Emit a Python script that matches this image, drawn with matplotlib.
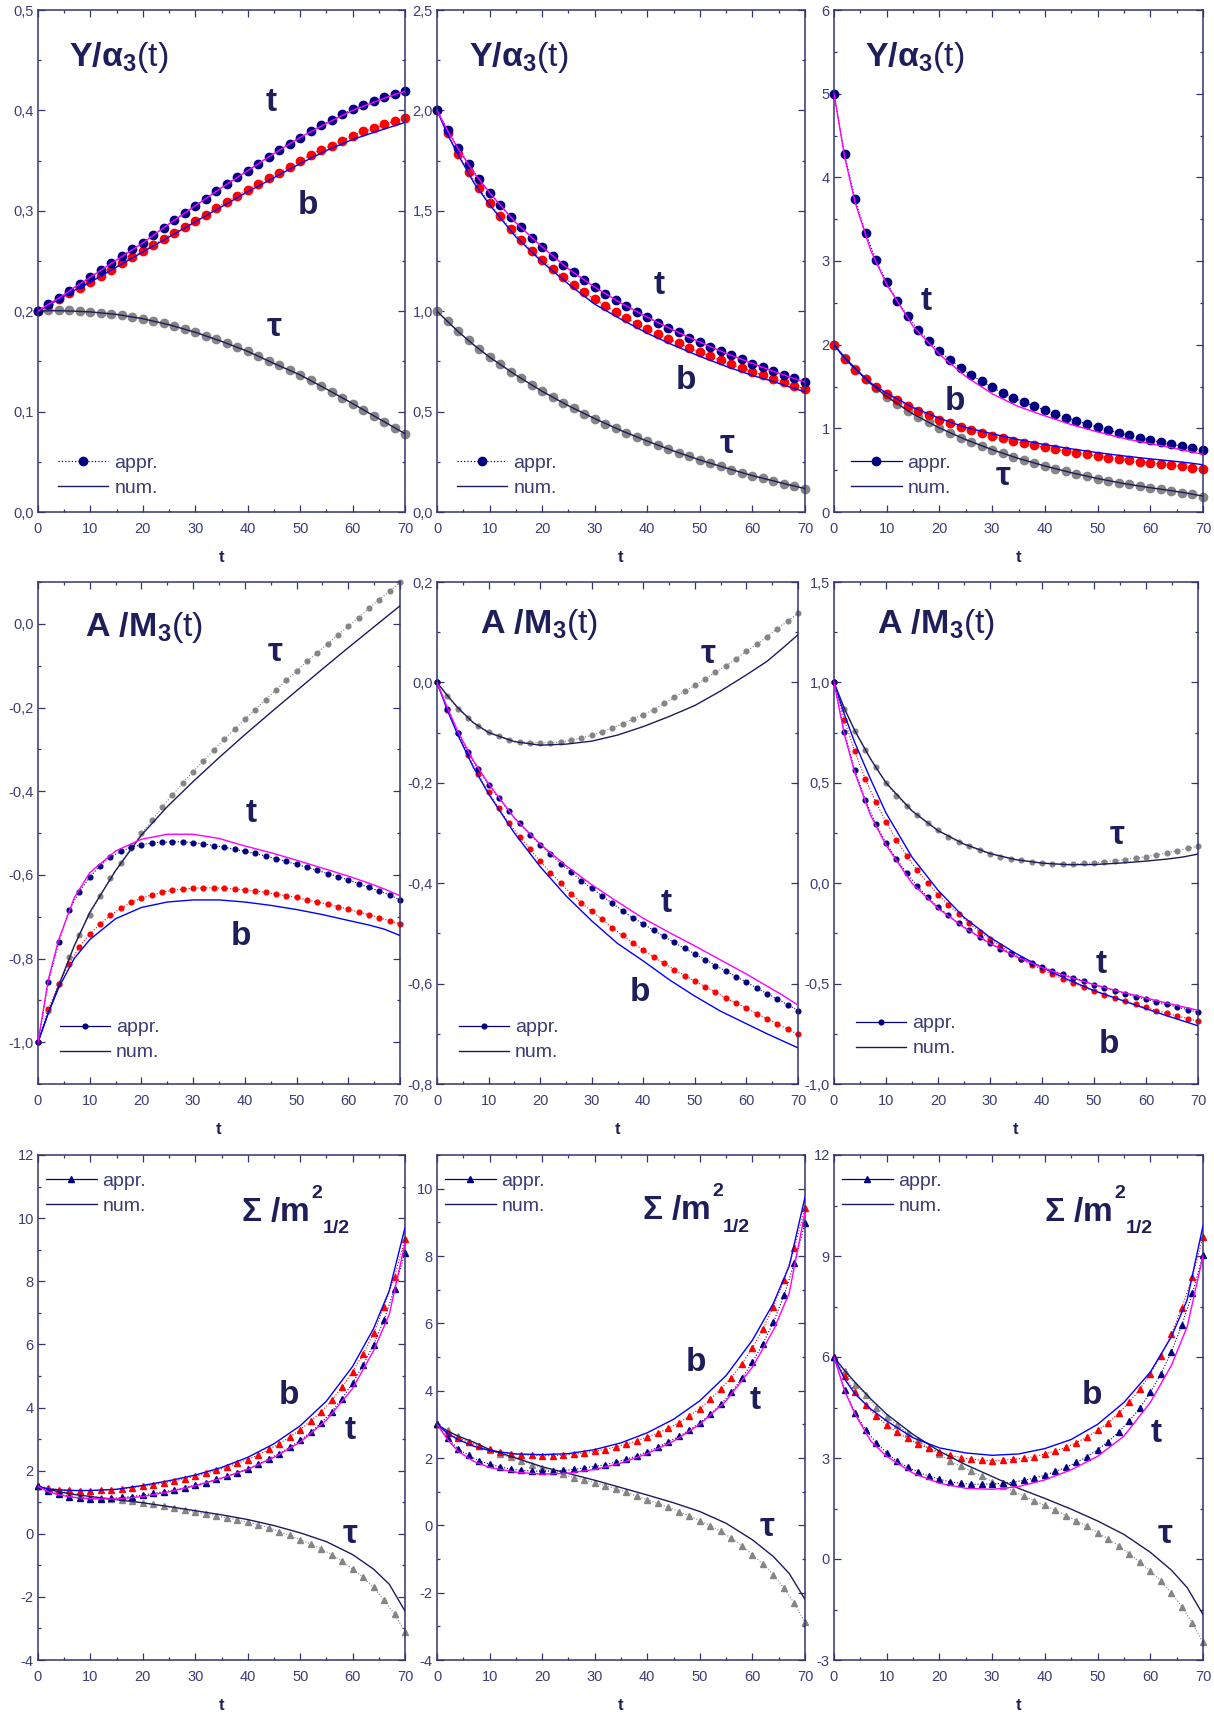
import numpy as np
import matplotlib
matplotlib.use('Agg')
import matplotlib.pyplot as plt
from matplotlib.lines import Line2D
from matplotlib.ticker import MultipleLocator, FuncFormatter

plt.rcParams['font.family'] = ['Liberation Sans', 'DejaVu Sans']
plt.rcParams['mathtext.fontset'] = 'custom'
plt.rcParams['mathtext.rm'] = 'Liberation Sans'
plt.rcParams['mathtext.bf'] = 'Liberation Sans:bold'
plt.rcParams['mathtext.it'] = 'Liberation Sans:italic'

# time grids: approximation markers every 2, numerical curves read at these t
T_APPR = list(range(0, 71, 2))
T_NUM = [0, 2, 4, 7, 10, 15, 20, 25, 30, 35, 40, 45, 50, 55, 60, 64, 67, 70]

# ---- row 1 : Y / alpha_3 ----
y1_t_appr = [0.200, 0.207, 0.213, 0.220, 0.227, 0.234, 0.241, 0.248, 0.255, 0.262, 0.268, 0.276,
             0.283, 0.291, 0.298, 0.305, 0.312, 0.320, 0.327, 0.334, 0.340, 0.347, 0.354, 0.361,
             0.367, 0.373, 0.379, 0.385, 0.390, 0.396, 0.401, 0.405, 0.409, 0.413, 0.416, 0.419]
y1_t_num = [0.200, 0.207, 0.213, 0.224, 0.234, 0.251, 0.268, 0.287, 0.305, 0.323, 0.340, 0.357,
            0.373, 0.387, 0.400, 0.408, 0.414, 0.419]
y1_b_appr = [0.200, 0.206, 0.212, 0.218, 0.223, 0.229, 0.235, 0.241, 0.248, 0.254, 0.260, 0.266,
             0.272, 0.278, 0.284, 0.290, 0.296, 0.303, 0.309, 0.315, 0.321, 0.327, 0.333, 0.338,
             0.344, 0.350, 0.356, 0.361, 0.365, 0.370, 0.375, 0.379, 0.382, 0.386, 0.389, 0.392]
y1_b_num = [0.200, 0.206, 0.212, 0.221, 0.229, 0.244, 0.259, 0.274, 0.289, 0.304, 0.319, 0.333,
            0.347, 0.360, 0.371, 0.378, 0.383, 0.388]
y1_tau_appr = [0.200, 0.201, 0.201, 0.201, 0.200, 0.199, 0.1985, 0.1975, 0.196, 0.194, 0.1925, 0.190,
               0.188, 0.185, 0.182, 0.179, 0.1755, 0.172, 0.168, 0.164, 0.160, 0.155, 0.150, 0.146,
               0.141, 0.1365, 0.131, 0.1255, 0.120, 0.114, 0.108, 0.102, 0.096, 0.090, 0.084, 0.078]
y1_tau_num = [0.200, 0.2005, 0.2005, 0.200, 0.1993, 0.1968, 0.1925, 0.1865, 0.179, 0.170, 0.160,
              0.148, 0.1365, 0.1225, 0.108, 0.096, 0.087, 0.078]

y2_t_appr = [2.0, 1.904, 1.814, 1.734, 1.656, 1.590, 1.528, 1.470, 1.417, 1.367, 1.321, 1.277,
             1.232, 1.193, 1.156, 1.121, 1.087, 1.057, 1.025, 0.998, 0.970, 0.943, 0.918, 0.894,
             0.869, 0.846, 0.824, 0.801, 0.780, 0.761, 0.739, 0.720, 0.700, 0.683, 0.665, 0.645]
y2_t_num = [2.0, 1.90, 1.81, 1.69, 1.59, 1.44, 1.32, 1.21, 1.12, 1.04, 0.97, 0.905, 0.846, 0.79,
            0.74, 0.70, 0.673, 0.647]
y2_b_appr = [2.0, 1.885, 1.785, 1.693, 1.612, 1.539, 1.472, 1.410, 1.353, 1.301, 1.255, 1.211,
             1.170, 1.131, 1.094, 1.059, 1.027, 0.995, 0.966, 0.938, 0.913, 0.887, 0.863, 0.840,
             0.817, 0.796, 0.775, 0.755, 0.736, 0.716, 0.699, 0.681, 0.663, 0.645, 0.629, 0.613]
y2_b_num = [2.0, 1.88, 1.78, 1.64, 1.53, 1.37, 1.245, 1.135, 1.035, 0.96, 0.89, 0.83, 0.775, 0.725,
            0.68, 0.65, 0.623, 0.598]
y2_tau_appr = [1.0, 0.949, 0.899, 0.855, 0.810, 0.771, 0.736, 0.699, 0.665, 0.633, 0.601, 0.571,
               0.543, 0.516, 0.489, 0.465, 0.440, 0.417, 0.395, 0.374, 0.353, 0.333, 0.314, 0.294,
               0.277, 0.259, 0.243, 0.227, 0.211, 0.195, 0.181, 0.167, 0.152, 0.140, 0.128, 0.115]
y2_tau_num = [1.0, 0.949, 0.899, 0.832, 0.771, 0.682, 0.601, 0.529, 0.465, 0.406, 0.353, 0.304,
              0.259, 0.219, 0.181, 0.155, 0.135, 0.117]

y3_t_appr = [5.0, 4.277, 3.736, 3.332, 3.009, 2.745, 2.523, 2.340, 2.179, 2.043, 1.923, 1.821,
             1.723, 1.638, 1.562, 1.489, 1.426, 1.366, 1.315, 1.264, 1.217, 1.170, 1.128, 1.089,
             1.051, 1.013, 0.979, 0.945, 0.915, 0.885, 0.860, 0.834, 0.809, 0.787, 0.762, 0.736]
y3_t_num = [5.0, 4.25, 3.70, 3.12, 2.72, 2.22, 1.885, 1.62, 1.413, 1.26, 1.149, 1.045, 0.957, 0.88,
            0.817, 0.77, 0.73, 0.689]
y3_b_appr = [2.0, 1.83, 1.70, 1.59, 1.49, 1.41, 1.34, 1.27, 1.21, 1.16, 1.10, 1.06, 1.01, 0.975,
             0.94, 0.91, 0.88, 0.85, 0.82, 0.795, 0.774, 0.75, 0.73, 0.71, 0.69, 0.668, 0.65, 0.635,
             0.618, 0.60, 0.587, 0.572, 0.558, 0.545, 0.53, 0.515]
y3_b_num = [2.0, 1.84, 1.71, 1.54, 1.42, 1.25, 1.12, 1.01, 0.935, 0.865, 0.805, 0.755, 0.71, 0.67,
            0.635, 0.61, 0.59, 0.565]
y3_tau_appr = [2.0, 1.84, 1.71, 1.59, 1.48, 1.38, 1.29, 1.21, 1.14, 1.07, 1.005, 0.945, 0.89, 0.84,
               0.79, 0.745, 0.70, 0.66, 0.62, 0.585, 0.55, 0.515, 0.485, 0.455, 0.43, 0.40, 0.375,
               0.35, 0.33, 0.31, 0.29, 0.27, 0.25, 0.23, 0.21, 0.185]
y3_tau_num = [2.0, 1.85, 1.72, 1.53, 1.38, 1.17, 1.005, 0.865, 0.745, 0.64, 0.55, 0.47, 0.40, 0.34,
              0.29, 0.255, 0.225, 0.19]

# ---- row 2 : A / M_3 ----
a1_t_appr = [-1.0, -0.857, -0.761, -0.685, -0.640, -0.606, -0.578, -0.558, -0.544, -0.534, -0.528,
             -0.524, -0.522, -0.521, -0.521, -0.523, -0.526, -0.530, -0.534, -0.539, -0.544, -0.549,
             -0.555, -0.561, -0.568, -0.575, -0.582, -0.589, -0.597, -0.604, -0.612, -0.621, -0.630,
             -0.639, -0.648, -0.660]
a1_t_num = [-1.0, -0.85, -0.755, -0.655, -0.595, -0.543, -0.515, -0.503, -0.503, -0.513, -0.531,
            -0.547, -0.565, -0.584, -0.603, -0.620, -0.634, -0.650]
a1_b_appr = [-1.0, -0.921, -0.862, -0.812, -0.772, -0.741, -0.718, -0.697, -0.680, -0.666, -0.656,
             -0.648, -0.642, -0.637, -0.634, -0.632, -0.631, -0.631, -0.632, -0.634, -0.636, -0.638,
             -0.642, -0.646, -0.650, -0.654, -0.660, -0.665, -0.670, -0.676, -0.682, -0.689, -0.695,
             -0.702, -0.710, -0.717]
a1_b_num = [-1.0, -0.93, -0.87, -0.80, -0.755, -0.705, -0.678, -0.665, -0.66, -0.66, -0.665, -0.673,
            -0.683, -0.695, -0.709, -0.72, -0.73, -0.745]
a1_tau_appr = [-1.0, -0.925, -0.862, -0.797, -0.744, -0.695, -0.650, -0.607, -0.572, -0.535, -0.501,
               -0.470, -0.438, -0.409, -0.381, -0.353, -0.328, -0.301, -0.276, -0.252, -0.228, -0.205,
               -0.181, -0.159, -0.135, -0.113, -0.090, -0.069, -0.048, -0.026, -0.006, 0.015, 0.037,
               0.058, 0.078, 0.099]
a1_tau_num = [-1.0, -0.93, -0.865, -0.77, -0.69, -0.59, -0.505, -0.437, -0.377, -0.32, -0.265, -0.212,
              -0.16, -0.108, -0.057, -0.017, 0.013, 0.043]

a2_t_appr = [0.0, -0.053, -0.100, -0.139, -0.173, -0.204, -0.231, -0.257, -0.281, -0.303, -0.323,
             -0.342, -0.361, -0.378, -0.395, -0.410, -0.425, -0.440, -0.455, -0.469, -0.481, -0.494,
             -0.506, -0.518, -0.530, -0.541, -0.552, -0.564, -0.575, -0.586, -0.597, -0.609, -0.620,
             -0.631, -0.642, -0.654]
a2_t_num = [0.0, -0.05, -0.097, -0.155, -0.202, -0.27, -0.322, -0.365, -0.403, -0.437, -0.47, -0.498,
            -0.525, -0.553, -0.581, -0.605, -0.623, -0.643]
a2_b_appr = [0.0, -0.055, -0.101, -0.145, -0.183, -0.219, -0.251, -0.281, -0.307, -0.332, -0.356,
             -0.379, -0.400, -0.421, -0.439, -0.456, -0.472, -0.489, -0.504, -0.519, -0.533, -0.547,
             -0.559, -0.572, -0.584, -0.595, -0.606, -0.617, -0.629, -0.639, -0.649, -0.660, -0.670,
             -0.680, -0.691, -0.701]
a2_b_num = [0.0, -0.055, -0.104, -0.168, -0.222, -0.30, -0.367, -0.425, -0.475, -0.52, -0.555, -0.592,
            -0.625, -0.655, -0.68, -0.70, -0.714, -0.728]
a2_tau_appr = [0.0, -0.028, -0.052, -0.071, -0.086, -0.098, -0.107, -0.114, -0.118, -0.120, -0.120,
               -0.120, -0.119, -0.115, -0.111, -0.105, -0.098, -0.091, -0.082, -0.073, -0.064, -0.054,
               -0.042, -0.030, -0.018, -0.006, 0.007, 0.020, 0.033, 0.047, 0.062, 0.076, 0.091,
               0.107, 0.122, 0.138]
a2_tau_num = [0.0, -0.026, -0.05, -0.08, -0.10, -0.118, -0.125, -0.123, -0.117, -0.105, -0.088,
              -0.068, -0.046, -0.017, 0.015, 0.042, 0.068, 0.095]

a3_t_appr = [1.0, 0.751, 0.564, 0.415, 0.296, 0.200, 0.121, 0.050, -0.013, -0.070, -0.118, -0.160,
             -0.200, -0.235, -0.270, -0.299, -0.327, -0.351, -0.375, -0.397, -0.415, -0.435, -0.454,
             -0.470, -0.487, -0.505, -0.520, -0.536, -0.551, -0.565, -0.578, -0.591, -0.604, -0.617,
             -0.630, -0.643]
a3_t_num = [1.0, 0.74, 0.55, 0.34, 0.19, 0.0, -0.125, -0.22, -0.30, -0.365, -0.42, -0.465, -0.505,
            -0.54, -0.572, -0.597, -0.615, -0.633]
a3_b_appr = [1.0, 0.812, 0.656, 0.520, 0.406, 0.307, 0.215, 0.136, 0.064, 0.002, -0.057, -0.108,
             -0.154, -0.200, -0.241, -0.277, -0.314, -0.347, -0.378, -0.406, -0.430, -0.454, -0.476,
             -0.498, -0.518, -0.536, -0.555, -0.571, -0.588, -0.604, -0.619, -0.634, -0.648, -0.661,
             -0.674, -0.687]
a3_b_num = [1.0, 0.84, 0.70, 0.52, 0.35, 0.13, -0.035, -0.17, -0.27, -0.35, -0.42, -0.48, -0.535,
            -0.58, -0.625, -0.66, -0.685, -0.71]
a3_tau_appr = [1.0, 0.867, 0.757, 0.663, 0.577, 0.500, 0.434, 0.386, 0.340, 0.298, 0.263, 0.231,
               0.204, 0.184, 0.163, 0.145, 0.132, 0.121, 0.114, 0.107, 0.101, 0.097, 0.097, 0.097,
               0.099, 0.101, 0.107, 0.112, 0.118, 0.125, 0.132, 0.141, 0.151, 0.162, 0.173, 0.184]
a3_tau_num = [1.0, 0.87, 0.76, 0.62, 0.50, 0.36, 0.262, 0.195, 0.148, 0.117, 0.10, 0.092, 0.093,
              0.10, 0.11, 0.12, 0.13, 0.145]

# ---- row 3 : Sigma / m_1/2^2 ----
s1_t_appr = [1.5, 1.368, 1.25, 1.17, 1.136, 1.11, 1.11, 1.12, 1.15, 1.18, 1.23, 1.28, 1.33, 1.39,
             1.46, 1.54, 1.62, 1.72, 1.82, 1.94, 2.06, 2.20, 2.37, 2.54, 2.74, 2.96, 3.21, 3.51,
             3.86, 4.28, 4.77, 5.34, 5.99, 6.78, 7.76, 8.90]
s1_t_num = [1.5, 1.33, 1.23, 1.15, 1.11, 1.10, 1.18, 1.33, 1.52, 1.76, 2.04, 2.42, 2.9, 3.6, 4.6,
            5.8, 6.95, 9.2]
s1_b_appr = [1.5, 1.45, 1.40, 1.38, 1.37, 1.37, 1.38, 1.39, 1.41, 1.46, 1.51, 1.55, 1.61, 1.67,
             1.75, 1.82, 1.91, 2.01, 2.11, 2.23, 2.35, 2.50, 2.67, 2.85, 3.06, 3.30, 3.57, 3.86,
             4.23, 4.64, 5.14, 5.69, 6.35, 7.19, 8.15, 9.33]
s1_b_num = [1.5, 1.42, 1.39, 1.37, 1.37, 1.41, 1.53, 1.68, 1.86, 2.1, 2.42, 2.85, 3.42, 4.2, 5.3,
            6.5, 7.7, 9.7]
s1_tau_appr = [1.5, 1.42, 1.36, 1.30, 1.24, 1.19, 1.14, 1.11, 1.08, 1.04, 0.985, 0.93, 0.87, 0.81,
               0.74, 0.68, 0.63, 0.57, 0.51, 0.44, 0.37, 0.29, 0.19, 0.07, -0.05, -0.19, -0.32,
               -0.48, -0.66, -0.87, -1.12, -1.38, -1.70, -2.10, -2.54, -3.10]
s1_tau_num = [1.5, 1.40, 1.33, 1.24, 1.18, 1.08, 0.98, 0.86, 0.73, 0.6, 0.45, 0.26, 0.03, -0.25,
              -0.66, -1.12, -1.6, -2.45]

s2_t_appr = [3.0, 2.59, 2.27, 2.08, 1.92, 1.82, 1.74, 1.67, 1.63, 1.61, 1.61, 1.61, 1.63, 1.66,
             1.71, 1.75, 1.80, 1.88, 1.96, 2.07, 2.18, 2.32, 2.48, 2.64, 2.83, 3.04, 3.30, 3.60,
             3.95, 4.37, 4.84, 5.40, 6.03, 6.83, 7.80, 8.97]
s2_t_num = [3.0, 2.55, 2.2, 1.9, 1.72, 1.58, 1.52, 1.55, 1.66, 1.85, 2.13, 2.5, 3.0, 3.7, 4.7, 5.8,
            6.9, 9.3]
s2_b_appr = [3.0, 2.75, 2.59, 2.47, 2.36, 2.26, 2.18, 2.13, 2.10, 2.08, 2.07, 2.07, 2.08, 2.11,
             2.15, 2.20, 2.25, 2.33, 2.41, 2.51, 2.62, 2.74, 2.88, 3.05, 3.25, 3.47, 3.74, 4.05,
             4.39, 4.80, 5.27, 5.83, 6.50, 7.28, 8.24, 9.43]
s2_b_num = [3.0, 2.73, 2.55, 2.35, 2.22, 2.12, 2.1, 2.13, 2.25, 2.45, 2.75, 3.15, 3.7, 4.45, 5.5,
            6.6, 7.7, 9.75]
s2_tau_appr = [3.0, 2.82, 2.65, 2.49, 2.35, 2.23, 2.12, 2.02, 1.92, 1.80, 1.70, 1.60, 1.51, 1.42,
               1.35, 1.27, 1.18, 1.09, 0.99, 0.87, 0.76, 0.65, 0.54, 0.41, 0.28, 0.14, -0.01,
               -0.18, -0.39, -0.60, -0.87, -1.15, -1.47, -1.87, -2.32, -2.88]
s2_tau_num = [3.0, 2.8, 2.65, 2.47, 2.25, 2.0, 1.74, 1.54, 1.34, 1.12, 0.9, 0.67, 0.41, 0.06, -0.43,
              -0.93, -1.43, -2.2]

s3_t_appr = [6.0, 5.02, 4.35, 3.83, 3.46, 3.15, 2.90, 2.72, 2.58, 2.46, 2.37, 2.29, 2.25, 2.22,
             2.22, 2.23, 2.25, 2.28, 2.34, 2.40, 2.49, 2.60, 2.72, 2.87, 3.04, 3.25, 3.48, 3.77,
             4.10, 4.48, 4.95, 5.49, 6.15, 6.96, 7.89, 9.04]
s3_t_num = [6.0, 5.0, 4.3, 3.5, 3.05, 2.55, 2.25, 2.1, 2.07, 2.15, 2.35, 2.65, 3.05, 3.65, 4.65,
            5.75, 6.9, 9.0]
s3_b_appr = [6.0, 5.43, 4.97, 4.57, 4.24, 3.98, 3.76, 3.58, 3.42, 3.29, 3.17, 3.09, 3.01, 2.97,
             2.93, 2.92, 2.93, 2.96, 2.99, 3.04, 3.12, 3.21, 3.32, 3.46, 3.62, 3.82, 4.04, 4.33,
             4.66, 5.04, 5.50, 6.03, 6.68, 7.47, 8.39, 9.57]
s3_b_num = [6.0, 5.35, 4.9, 4.45, 4.1, 3.6, 3.3, 3.15, 3.08, 3.12, 3.28, 3.55, 4.0, 4.65, 5.55, 6.6,
            7.7, 9.9]
s3_tau_appr = [6.0, 5.57, 5.18, 4.86, 4.50, 4.23, 3.98, 3.74, 3.52, 3.29, 3.12, 2.92, 2.76, 2.61,
               2.46, 2.30, 2.16, 2.02, 1.87, 1.73, 1.59, 1.45, 1.29, 1.14, 0.97, 0.78, 0.59, 0.40,
               0.16, -0.09, -0.36, -0.65, -1.01, -1.42, -1.91, -2.48]
s3_tau_num = [6.0, 5.6, 5.25, 4.75, 4.3, 3.7, 3.2, 2.8, 2.45, 2.1, 1.8, 1.48, 1.13, 0.73, 0.2,
              -0.33, -0.85, -1.65]

NAVY = '#000080'
RED = '#ff0000'
GREY = '#858585'
MAGENTA = '#ff00ff'
BLUE = '#0000ff'
DARK = '#1c1c5c'
AXC = '#34346e'
TXT = '#1e1e5a'
TICKC = '#3c3c74'

T_Y = r'$\mathbf{Y/\alpha_3}$(t)'
T_A = r'$\mathbf{A\ /M_3}$(t)'
T_S = 'sigma'   # drawn in pieces, see below

W, H = 1214, 1712

panels = [
    dict(box=(38, 405, 10, 512), ylim=(0, 0.5), maj=0.1, mnr=0.05, dec=1,
         data=(y1_t_appr, y1_t_num, y1_b_appr, y1_b_num, y1_tau_appr, y1_tau_num),
         title=T_Y, tpos=(0.084, 0.905), labs=[(44.5, 0.408), (51.5, 0.305), (45, 0.184)],
         mk='o', ms=6, dotted=True, leg=('lower left', (0.054, 0.03))),
    dict(box=(437, 805, 10, 512), ylim=(0, 2.5), maj=0.5, mnr=0.25, dec=1,
         data=(y2_t_appr, y2_t_num, y2_b_appr, y2_b_num, y2_tau_appr, y2_tau_num),
         title=T_Y, tpos=(0.088, 0.905), labs=[(42.2, 1.126), (47.3, 0.656), (55.2, 0.337)],
         mk='o', ms=6, dotted=True, leg=('lower left', (0.054, 0.03))),
    dict(box=(834, 1203, 10, 512), ylim=(0, 6), maj=1, mnr=0.5, dec=0,
         data=(y3_t_appr, y3_t_num, y3_b_appr, y3_b_num, y3_tau_appr, y3_tau_num),
         title=T_Y, tpos=(0.083, 0.905), labs=[(17.4, 2.51), (22.9, 1.32), (32.1, 0.43)],
         mk='o', ms=6, dotted=False, leg=('lower left', (0.046, 0.03))),
    dict(box=(38, 400, 582, 1084), ylim=(-1.1, 0.1), maj=0.2, mnr=0.1, dec=1,
         data=(a1_t_appr, a1_t_num, a1_b_appr, a1_b_num, a1_tau_appr, a1_tau_num),
         title=T_A, tpos=(0.13, 0.91), labs=[(41.3, -0.454), (39.2, -0.748), (45.8, -0.068)],
         mk='o', ms=3.4, dotted=False, leg=('lower left', (0.06, 0.045))),
    dict(box=(437, 798, 582, 1084), ylim=(-0.8, 0.2), maj=0.2, mnr=0.1, dec=1,
         data=(a2_t_appr, a2_t_num, a2_b_appr, a2_b_num, a2_tau_appr, a2_tau_num),
         title=T_A, tpos=(0.12, 0.915), labs=[(44.4, -0.441), (39.4, -0.617), (52.6, 0.055)],
         mk='o', ms=3.4, dotted=False, leg=('lower left', (0.06, 0.045))),
    dict(box=(834, 1198, 582, 1084), ylim=(-1.0, 1.5), maj=0.5, mnr=0.25, dec=1,
         data=(a3_t_appr, a3_t_num, a3_b_appr, a3_b_num, a3_tau_appr, a3_tau_num),
         title=T_A, tpos=(0.117, 0.915), labs=[(51.3, -0.406), (52.9, -0.801), (54.5, 0.237)],
         mk='o', ms=3.4, dotted=False, leg=('lower left', (0.06, 0.053))),
    dict(box=(38, 405, 1155, 1660), ylim=(-4, 12), maj=2, mnr=1, dec=0,
         data=(s1_t_appr, s1_t_num, s1_b_appr, s1_b_num, s1_tau_appr, s1_tau_num),
         title=T_S, tpos=(0.553, 0.887), labs=[(59.5, 3.28), (47.8, 4.38), (59.5, -0.02)],
         mk='^', ms=4.5, dotted=False, leg=('upper left', (0.022, 0.966))),
    dict(box=(437, 805, 1155, 1660), ylim=(-4, 11), maj=2, mnr=1, dec=0,
         data=(s2_t_appr, s2_t_num, s2_b_appr, s2_b_num, s2_tau_appr, s2_tau_num),
         title=T_S, tpos=(0.556, 0.89), labs=[(60.6, 3.70), (49.2, 4.84), (62.8, -0.05)],
         mk='^', ms=4.5, dotted=False, leg=('upper left', (0.022, 0.966))),
    dict(box=(834, 1203, 1155, 1660), ylim=(-3, 12), maj=3, mnr=1.5, dec=0,
         data=(s3_t_appr, s3_t_num, s3_b_appr, s3_b_num, s3_tau_appr, s3_tau_num),
         title=T_S, tpos=(0.57, 0.887), labs=[(61.2, 3.72), (49.0, 4.86), (62.8, 0.73)],
         mk='^', ms=4.5, dotted=False, leg=('upper left', (0.022, 0.966))),
]


def comma_fmt(dec):
    def f(v, pos):
        s = '%.*f' % (dec, v)
        if s.startswith('-') and float(s) == 0:
            s = s[1:]
        return s.replace('.', ',')
    return FuncFormatter(f)


def sigma_title(ax, x, y):
    # Sigma / m, with the 2 raised and 1/2 lowered after it
    main = ax.text(x, y, r'$\mathbf{\Sigma\ /m}$', transform=ax.transAxes,
                   fontsize=24, color=TXT, ha='left', va='center')
    ax.annotate('2', xy=(1, 1), xycoords=main, xytext=(1.5, 2.5),
                textcoords='offset points', fontsize=14, fontweight='bold',
                color=TXT, ha='left', va='center')
    ax.annotate('1/2', xy=(1, 0), xycoords=main, xytext=(9.5, -1),
                textcoords='offset points', fontsize=14, fontweight='bold',
                color=TXT, ha='left', va='center')


fig = plt.figure(figsize=(W / 100, H / 100), dpi=100)

for p in panels:
    l, r, top, bot = p['box']
    ax = fig.add_axes([l / W, 1 - bot / H, (r - l) / W, (bot - top) / H])
    t_a, t_n, b_a, b_n, u_a, u_n = p['data']
    mk, ms = p['mk'], p['ms']

    # approximations (markers), then numerical curves on top
    for vals, c in ((u_a, GREY), (b_a, RED), (t_a, NAVY)):
        ax.plot(T_APPR, vals, ls=':', lw=0.8, color=c, marker=mk, ms=ms,
                mfc=c, mec=c, zorder=2, clip_on=False)
    for vals, c in ((u_n, DARK), (b_n, BLUE), (t_n, MAGENTA)):
        ax.plot(T_NUM, vals, '-', lw=1.0, color=c, zorder=3)

    ax.set_xlim(0, 70)
    ax.set_ylim(*p['ylim'])
    ax.xaxis.set_major_locator(MultipleLocator(10))
    ax.xaxis.set_minor_locator(MultipleLocator(5))
    ax.yaxis.set_major_locator(MultipleLocator(p['maj']))
    ax.yaxis.set_minor_locator(MultipleLocator(p['mnr']))
    ax.yaxis.set_major_formatter(comma_fmt(p['dec']))
    ax.tick_params(which='both', direction='in', top=True, right=True,
                   color=AXC, labelcolor=TICKC, labelsize=10.5, width=0.9)
    ax.tick_params(which='major', length=5)
    ax.tick_params(which='minor', length=2.5)
    ax.tick_params(axis='x', which='major', pad=7)
    ax.tick_params(axis='y', which='major', pad=3)
    for s in ax.spines.values():
        s.set_color(AXC)
        s.set_linewidth(1.1)
    ax.set_xlabel('t', fontsize=12, fontweight='bold', color=TXT, labelpad=10)

    if p['title'] == T_S:
        sigma_title(ax, *p['tpos'])
    else:
        ax.text(p['tpos'][0], p['tpos'][1], p['title'], transform=ax.transAxes,
                fontsize=24.5, color=TXT, ha='left', va='center')
    for (x, y), s in zip(p['labs'], ['t', 'b', 'τ']):
        ax.text(x, y, s, fontsize=24, fontweight='bold', color=TXT,
                ha='center', va='center', zorder=5)

    h_appr = Line2D([], [], color=NAVY, lw=0.9, ls=':' if p['dotted'] else '-',
                    marker=mk, ms=ms, mfc=NAVY, mec=NAVY)
    h_num = Line2D([], [], color=DARK, lw=1.0)
    loc, anchor = p['leg']
    ax.legend([h_appr, h_num], ['appr.', 'num.'], loc=loc, bbox_to_anchor=anchor,
              frameon=False, fontsize=14, labelcolor=TICKC, handlelength=2.6,
              handletextpad=0.3, borderpad=0, borderaxespad=0, labelspacing=0.38)

fig.savefig('out.png', dpi=100)
